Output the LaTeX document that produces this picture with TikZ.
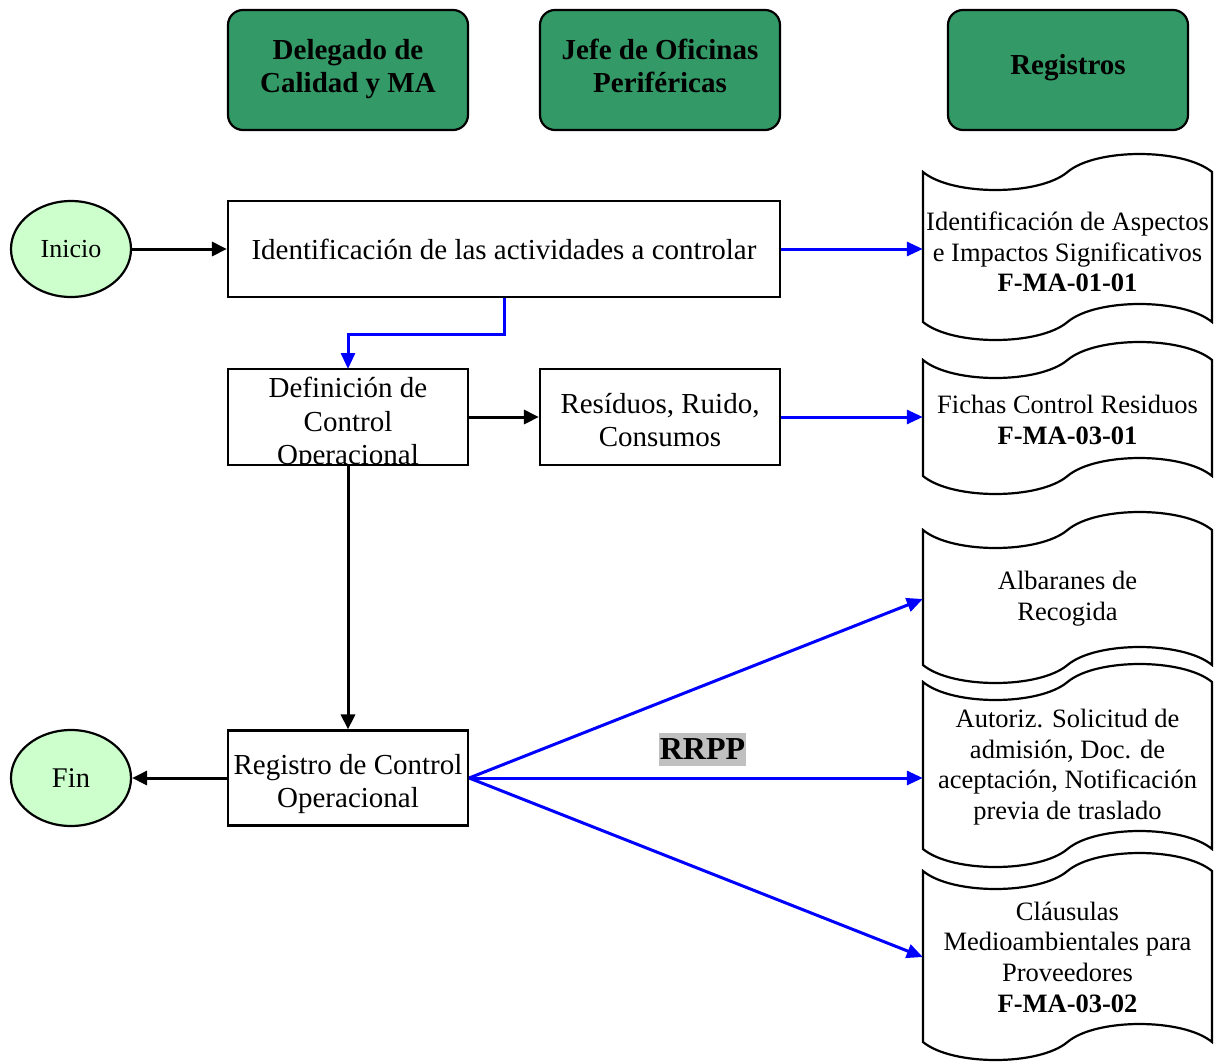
\documentclass[tikz,border=0pt]{standalone}
\usepackage{fontspec}
\setmainfont{Liberation Serif}
\usetikzlibrary{arrows.meta,shapes.geometric}
\definecolor{hdrgreen}{RGB}{51,153,102}
\definecolor{termgreen}{RGB}{204,255,204}
\definecolor{rrppgray}{RGB}{192,192,192}
\definecolor{linkblue}{RGB}{0,0,255}
% tape (document) shape: #1 left x, #2 top line, #3 bottom line
\newcommand\tapeshape[3]{%
  \draw[line width=2.2pt, fill=white]
    (#1,#2) .. controls (#1+29,#2+24) and (#1+116,#2+24) .. (#1+144.5,#2)
            .. controls (#1+173,#2-24) and (#1+260,#2-24) .. (#1+289,#2)
    -- (#1+289,#3)
            .. controls (#1+260,#3-24) and (#1+173,#3-24) .. (#1+144.5,#3)
            .. controls (#1+116,#3+24) and (#1+29,#3+24) .. (#1,#3)
    -- cycle;}
\begin{document}
\begin{tikzpicture}[x=1pt,y=-1pt,
  hdr/.style={draw, line width=2.2pt, fill=hdrgreen, rounded corners=15pt,
    minimum width=240pt, minimum height=120pt, inner sep=0pt},
  hdrtext/.style={align=center, inner sep=0pt,
    font=\fontsize{29}{33}\selectfont\bfseries},
  procbox/.style={draw, line width=2.2pt, fill=white, align=center, inner sep=0pt,
    font=\fontsize{29}{33.5}\selectfont},
  plaintext/.style={align=center, inner sep=0pt, font=\fontsize{29}{33.5}\selectfont},
  term/.style={ellipse, draw, line width=2.2pt, fill=termgreen,
    minimum width=120pt, minimum height=96pt, inner sep=0pt},
  doctext/.style={align=center, inner sep=0pt, minimum width=289pt,
    font=\fontsize{26.5}{30.7}\selectfont},
  blk/.style={line width=3pt, -{Triangle[length=15pt,width=14pt]}},
  blu/.style={line width=3pt, linkblue, -{Triangle[length=16pt,width=14pt]}}
]
\useasboundingbox (0,0) rectangle (1229,1063);

% headers
\node[hdr] (h1) at (348,70) {};
\node[hdr] (h2) at (660,70) {};
\node[hdr] (h3) at (1068,70) {};
\node[hdrtext] (h1t) at (348,69) {Delegado de\\Calidad y MA};
\node[hdrtext] (h2t) at (660,66) {Jefe de Oficinas\\Periféricas};
\node[hdrtext] (h3t) at (1068,68) {Registros};

% terminals
\node[term, font=\fontsize{26}{30}\selectfont] (ini) at (71,249) {Inicio};
\node[term, font=\fontsize{28.5}{32}\selectfont] (fin) at (71,778) {Fin};

% process boxes
\node[procbox, minimum width=552pt, minimum height=96pt] (b1) at (504,249)
  {Identificación de las actividades a controlar};
\node[procbox, draw=none, outer sep=0pt, minimum width=240pt, minimum height=96pt] (b2) at (348,417) {};
\begin{scope}
  \clip (b2.south west) rectangle (b2.north east);
  \node[plaintext] (b2t) at (348,424) {Definición de\\Control\\Operacional};
\end{scope}
\draw[line width=2.2pt] (b2.south west) rectangle (b2.north east);
\node[procbox, minimum width=240pt, minimum height=96pt] (b3) at (660,417) {};
\node[plaintext] (b3t) at (660,420) {Resíduos, Ruido,\\Consumos};
\node[procbox, minimum width=240pt, minimum height=95pt] (b4) at (348,778) {};
\node[plaintext] (b4t) at (348,784) {Registro de Control\\Operacional};

% document shapes
\tapeshape{923}{172}{322}
\tapeshape{923}{360}{476}
\tapeshape{923}{530}{665}
\tapeshape{923}{682}{849}
\tapeshape{923}{871}{1042}

\node[doctext] (d1) at (1067.5,252)
  {Identificación de Aspectos\\e Impactos Significativos\\\textbf{F-MA-01-01}};
\node[doctext] (d2) at (1067.5,420) {Fichas Control Residuos\\\textbf{F-MA-03-01}};
\node[doctext] (d3) at (1067.5,599) {Albaranes de\\Recogida};
\node[doctext] (d4) at (1067.5,767)
  {Autoriz. Solicitud de\\admisión, Doc. de\\aceptación, Notificación\\previa de traslado};
\node[doctext] (d5) at (1067.5,957)
  {Cláusulas\\Medioambientales para\\Proveedores\\\textbf{F-MA-03-02}};

% RRPP label
\node[fill=rrppgray, minimum width=87pt, minimum height=33pt, inner sep=0pt,
  font=\fontsize{32}{32}\selectfont\bfseries] (rrpp) at (702.5,749.5) {RRPP};

% connectors
\draw[blk] (ini.east) -- (b1.west);
\draw[blu] (b1.east) -- (b1.east -| d1.west);
\draw[blu] (b1.south) -- ++(0,36) -| (b2.north);
\draw[blk] (b2.east) -- (b3.west);
\draw[blu] (b3.east) -- (b3.east -| d2.west);
\draw[blk] (b2.south) -- (b4.north);
\draw[blk] (b4.west) -- (fin.east);
\draw[blu] (b4.east) -- (d3.west);
\draw[blu] (b4.east) -- (b4.east -| d4.west);
\draw[blu] (b4.east) -- (d5.west);
\end{tikzpicture}
\end{document}
